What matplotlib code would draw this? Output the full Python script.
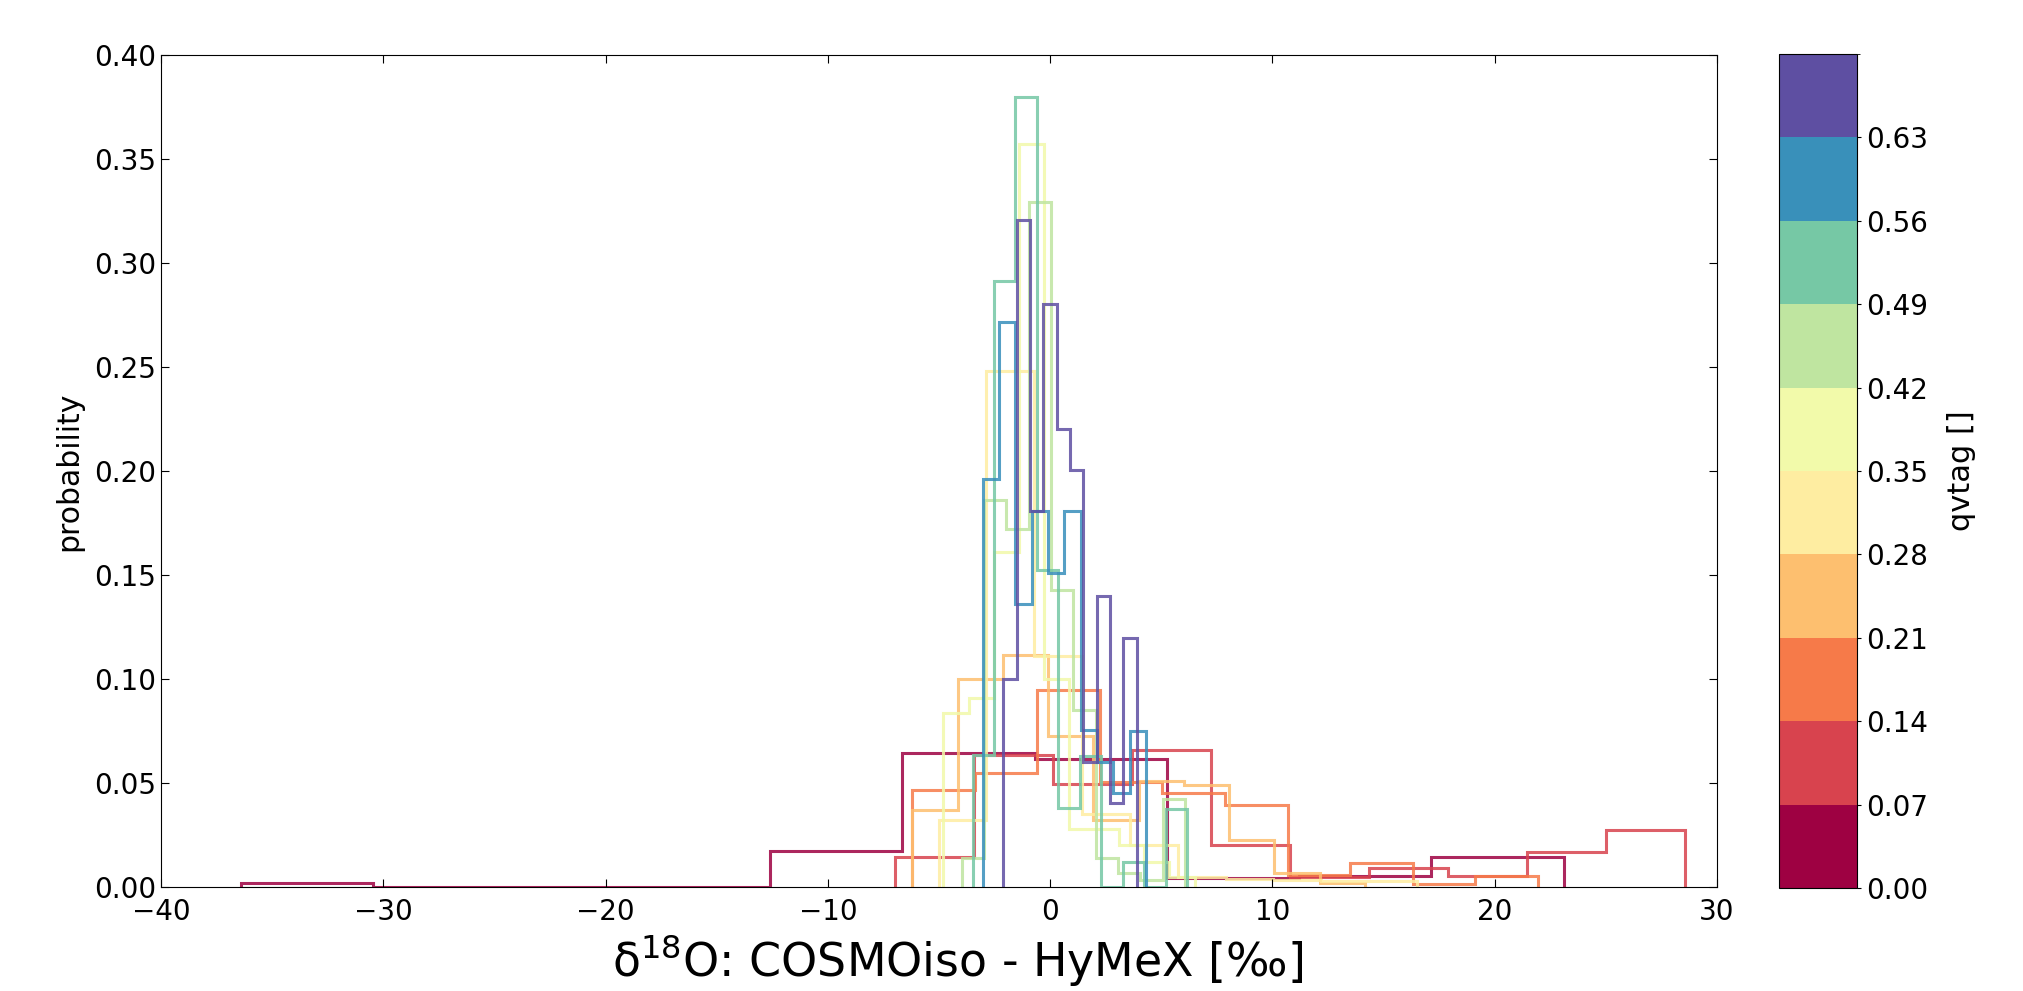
import numpy as np
import matplotlib
matplotlib.use('Agg')
from matplotlib import pyplot as plt
from matplotlib import colors as mcolors
from matplotlib import cm

# qvtag class boundaries (colorbar)
qvtag_levels = np.round(np.arange(0, 0.71, 0.07), 2)

# min / max of d18O difference in each qvtag class -> 10 equal bins each
range_min = [-36.4, -7.0, -6.2, -6.2, -5.02, -4.8, -3.98, -3.49, -3.03, -2.1]
range_max = [23.1, 28.57, 21.94, 14.16, 16.5, 6.5, 6.07, 6.17, 4.32, 3.9]

# normalised histograms (probability density), one list per qvtag class
dens_00 = [0.0017, 0.0, 0.0, 0.0, 0.0172, 0.0645, 0.0613, 0.0045, 0.0055, 0.0143]
dens_07 = [0.0142, 0.0635, 0.0496, 0.066, 0.0204, 0.005, 0.0093, 0.0054, 0.017, 0.0275]
dens_14 = [0.0467, 0.055, 0.0945, 0.0505, 0.0451, 0.0392, 0.0058, 0.0114, 0.0015, 0.0052]
dens_21 = [0.037, 0.100, 0.1117, 0.0724, 0.032, 0.0507, 0.0488, 0.0226, 0.0066, 0.002]
dens_28 = [0.0323, 0.248, 0.111, 0.035, 0.02, 0.005, 0.004, 0.0035, 0.003, 0.003]
dens_35 = [0.0836, 0.0909, 0.161, 0.357, 0.10, 0.028, 0.028, 0.02, 0.012, 0.005]
dens_42 = [0.0138, 0.186, 0.172, 0.3295, 0.143, 0.085, 0.0138, 0.0069, 0.0035, 0.0422]
dens_49 = [0.0636, 0.2914, 0.380, 0.1526, 0.0379, 0.063, 0.0, 0.012, 0.0, 0.0375]
dens_56 = [0.1961, 0.2714, 0.1358, 0.1807, 0.151, 0.1807, 0.0756, 0.060, 0.0451, 0.0748]
dens_63 = [0.100, 0.3207, 0.1807, 0.2805, 0.2203, 0.2004, 0.0603, 0.1398, 0.0403, 0.1197]
densities = [dens_00, dens_07, dens_14, dens_21, dens_28,
             dens_35, dens_42, dens_49, dens_56, dens_63]

cmap = plt.get_cmap('Spectral')
norm = mcolors.BoundaryNorm(qvtag_levels, cmap.N)
line_colors = cmap(np.linspace(0, 1, len(densities)))

fig = plt.figure(figsize=(20.23, 9.91), dpi=100)
ax = fig.add_axes([0.0796, 0.105, 0.7691, 0.8395])
cax = fig.add_axes([0.8795, 0.104, 0.0385, 0.8415])

for i in range(len(densities)):
    edges = np.linspace(range_min[i], range_max[i], 11)
    ax.stairs(densities[i], edges, baseline=0, color=line_colors[i],
              lw=2.2, alpha=0.85)

ax.set_xlim(-40, 30)
ax.set_ylim(0, 0.4)
ax.set_yticks(np.arange(0, 0.41, 0.05))
ax.set_yticklabels(['%.2f' % v for v in np.arange(0, 0.41, 0.05)])
ax.tick_params(direction='in', top=True, right=True, length=6, labelsize=20)
ax.tick_params(axis='x', pad=8)
ax.set_ylabel('probability', fontsize=21.5, labelpad=8)
ax.set_xlabel('δ$^{18}$O: COSMOiso - HyMeX [‰]', fontsize=33, labelpad=4)
ax.xaxis.label.set_x(0.512)

sm = cm.ScalarMappable(norm=norm, cmap=cmap)
cb = fig.colorbar(sm, cax=cax, boundaries=qvtag_levels, ticks=qvtag_levels[:-1])
cb.ax.set_yticklabels(['%.2f' % v for v in qvtag_levels[:-1]])
cb.ax.tick_params(labelsize=20, length=3)
cb.set_label('qvtag []', fontsize=22)
cb.ax.yaxis.set_label_coords(2.15, 0.5)

fig.savefig('out.png', dpi=100)
